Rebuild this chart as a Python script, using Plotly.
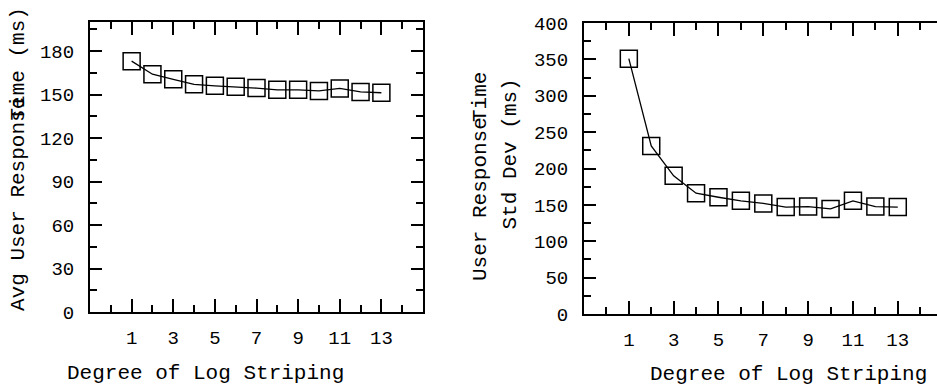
import plotly.graph_objects as go

# Response time vs. degree of log striping
degree = [1, 2, 3, 4, 5, 6, 7, 8, 9, 10, 11, 12, 13]
avg_response_ms = [173, 164, 160.5, 157, 156, 155.3, 154.4, 153.2, 153.2, 152.5, 154.2, 151.8, 151.2]
std_response_ms = [351, 231, 190, 166, 160.5, 155.5, 152, 147, 147.7, 144.5, 155.5, 147.7, 147]

x_tick_labels = ["1", "3", "5", "7", "9", "11", "13"]

W, H = 937, 388
FONT = "Liberation Mono"
INK = "black"


def px_x(p):
    return p / W


def px_y(p):
    return 1 - p / H


marker_style = dict(symbol="square-open", size=17, color=INK, line=dict(width=1.5, color=INK))
line_style = dict(color=INK, width=1.3)

fig = go.Figure()
fig.add_trace(go.Scatter(x=degree, y=avg_response_ms, mode="lines+markers",
                         marker=marker_style, line=line_style, xaxis="x", yaxis="y",
                         hoverinfo="x+y"))
fig.add_trace(go.Scatter(x=degree, y=std_response_ms, mode="lines+markers",
                         marker=marker_style, line=line_style, xaxis="x2", yaxis="y2",
                         hoverinfo="x+y"))


def x_axis(domain, rng, anchor, mirror):
    return dict(
        domain=domain, range=rng, anchor=anchor, automargin=False,
        tickmode="array", tickvals=[int(t) for t in x_tick_labels], ticktext=x_tick_labels,
        ticks="inside", ticklen=13, tickwidth=1.5, tickcolor=INK,
        showline=True, linewidth=2, linecolor=INK, mirror=mirror,
        showgrid=False, zeroline=False,
        minor=dict(dtick=1, tick0=0, ticks="inside", ticklen=7, tickwidth=1.5,
                   tickcolor=INK, showgrid=False),
        tickfont=dict(family=FONT, size=19, color=INK),
        ticklabelstandoff=7,
    )


def y_axis(domain, rng, anchor, major, mirror, showline=True, labels=True, side="left", overlaying=None):
    ax = dict(
        domain=domain, range=rng, anchor=anchor, side=side, automargin=False,
        tick0=0, dtick=major,
        ticks="inside", ticklen=12, tickwidth=1.5, tickcolor=INK,
        showline=showline, linewidth=2, linecolor=INK, mirror=mirror,
        showgrid=False, zeroline=False, showticklabels=labels,
        minor=dict(dtick=major / 2, tick0=0, ticks="inside", ticklen=7, tickwidth=1.5,
                   tickcolor=INK, showgrid=False),
        tickfont=dict(family=FONT, size=19, color=INK),
        ticklabelstandoff=10,
    )
    if overlaying:
        ax["overlaying"] = overlaying
    return ax


fig.update_layout(
    width=W, height=H,
    margin=dict(l=0, r=0, t=0, b=0, autoexpand=False),
    paper_bgcolor="white", plot_bgcolor="white",
    showlegend=False,
    xaxis=x_axis([px_x(90), px_x(423)], [-1, 15], "y", "allticks"),
    yaxis=y_axis([px_y(312), px_y(22)], [0, 200], "x", 30, "allticks"),
    xaxis2=x_axis([px_x(584), 1.0], [-1, 14.75], "y2", "allticks"),
    yaxis2=y_axis([px_y(314), px_y(23)], [0, 400], "x2", 50, False),
    yaxis3=y_axis([px_y(314), px_y(23)], [0, 400], "x2", 50, False,
                  showline=False, labels=False, side="right", overlaying="y2"),
)

title_font = dict(family=FONT, size=21, color=INK)


def note(text, x, y, xanchor="center", yanchor="middle", angle=0):
    fig.add_annotation(text=text, x=px_x(x), y=px_y(y), xref="paper", yref="paper",
                       xanchor=xanchor, yanchor=yanchor, textangle=angle,
                       showarrow=False, font=title_font)


# axis titles
note("Degree of Log Striping", 205, 373)
note("Degree of Log Striping", 788, 374)

note("Avg User Response", 18, 313, yanchor="bottom", angle=-90)
note("Time (ms)", 18, 6, yanchor="top", angle=-90)

note("User Response", 480, 283, yanchor="bottom", angle=-90)
note("Time", 480, 70, yanchor="top", angle=-90)
note("Std Dev (ms)", 510, 232, yanchor="bottom", angle=-90)

fig.write_html("out.html")
